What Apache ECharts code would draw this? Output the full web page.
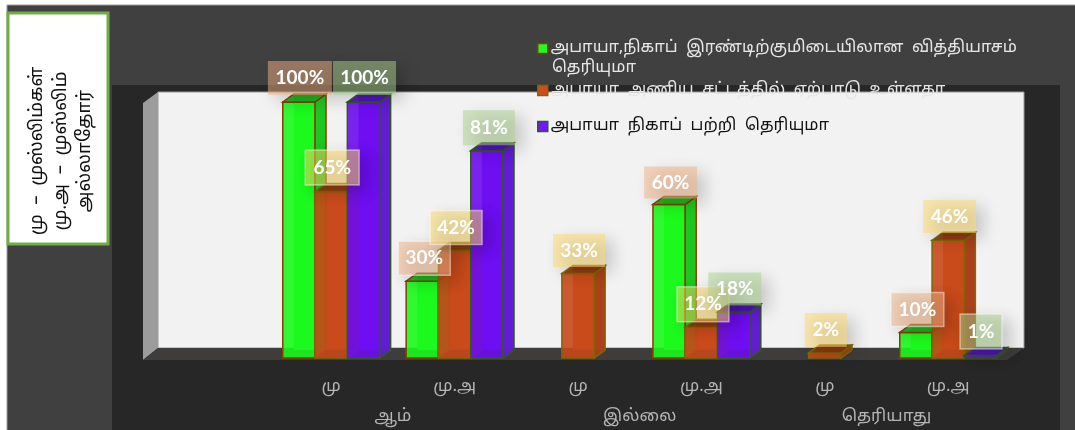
<!DOCTYPE html>
<html>
<head>
<meta charset="utf-8">
<style>
  html, body { margin: 0; padding: 0; background: #fff; }
  #main { width: 1075px; height: 430px; }
</style>
<script src="https://cdn.jsdelivr.net/npm/echarts@6/dist/echarts.min.js"></script>
</head>
<body>
<div id="main"></div>
<script>
const categories = ['மு', 'மு.அ', 'மு', 'மு.அ', 'மு', 'மு.அ'];
const groups = ['ஆம்', 'இல்லை', 'தெரியாது'];
const seriesNames = [
  'அபாயா,நிகாப் இரண்டிற்குமிடையிலான வித்தியாசம் தெரியுமா',
  'அபாயா அணிய சட்டத்தில் ஏற்பாடு உள்ளதா',
  'அபாயா நிகாப் பற்றி தெரியுமா'
];
const knowDifference = [100, 30, null, 60, null, 10];
const dressRule = [65, 42, 33, 12, 2, 46];
const knowAbaya = [100, 81, null, 18, null, 1];
const noteLines = ['மு  –  முஸ்லிம்கள்', 'மு.அ  –  முஸ்லிம்', 'அல்லாதோர்'];

const FONT = '"Noto Sans Tamil", "Noto Sans", "DejaVu Sans", sans-serif';
const DX = 11, DY = 8;   // depth of the fake 3d
const BAR_W = 32.3;

// look of each series
const looks = [
  { back: '#1fff1f', front: '#1bf81c', side: '#1cc41f', top: '#1cb01c', edge: '#8a3c06', tag: '#f4b183' },
  { back: '#d04c1e', front: '#c8481a', side: '#a8401a', top: '#8c3a12', edge: '#7d6a00', tag: '#ffd966' },
  { back: '#7416ff', front: '#6d0cf0', side: '#5f1ccf', top: '#4f14b4', edge: '#35591f', tag: '#a9d18e' }
];

// label box centre relative to the top of its bar, box size, and the white frame some of them have
const tagNudge = [
  [[1, -24, 64, 34, 0], [2, -23, 52, 34, 1], null, [1.5, -22, 53, 32, 0], null, [1.5, -23, 53, 34, 1]],
  [[1, -24, 54, 35, 1], [1.5, -23, 52, 34, 1], [1, -23, 52, 33, 0], [1.6, -23, 52, 35, 1], [1, -23, 42, 34, 0], [1.3, -23.7, 53, 33, 0]],
  [[1, -24, 63, 34, 0], [2, -23, 52, 35, 0], null, [1, -23, 53, 33, 0], null, [0.5, -24, 42, 35, 1]]
];

function barItem(seriesIndex) {
  const look = looks[seriesIndex];
  return function (params, api) {
    const i = api.value(0);
    const v = api.value(1);
    const base = api.coord([i, 0]);
    const top = api.coord([i, v]);
    const x = base[0] + (seriesIndex - 1.5) * BAR_W;
    const y = top[1];
    const w = BAR_W;
    const h = base[1] - y;
    const edge = { stroke: look.edge, lineWidth: 1.5 };
    const nudge = tagNudge[seriesIndex][i];
    const cx = x + w / 2 + nudge[0];
    const cy = y + nudge[1];
    return {
      type: 'group',
      children: [
        { type: 'rect', shape: { x: x + DX, y: y - DY, width: w, height: h },
          style: { fill: look.back, opacity: 0.92 } },
        { type: 'rect', shape: { x: x, y: y, width: w, height: h },
          style: { fill: look.front, opacity: 0.9 } },
        { type: 'rect', shape: { x: x, y: y, width: w, height: h },
          style: Object.assign({ fill: 'none' }, edge) },
        { type: 'polygon', shape: { points: [[x + w, y], [x + w + DX, y - DY], [x + w + DX, base[1] - DY], [x + w, base[1]]] },
          style: Object.assign({ fill: look.side, opacity: 0.95 }, edge) },
        { type: 'polygon', shape: { points: [[x, y], [x + DX, y - DY], [x + w + DX, y - DY], [x + w, y]] },
          style: Object.assign({ fill: look.top, opacity: 0.95 }, edge) },
        { type: 'rect', z2: 50,
          shape: { x: cx - nudge[2] / 2, y: cy - nudge[3] / 2, width: nudge[2], height: nudge[3] },
          style: {
            fill: look.tag, opacity: 0.5,
            stroke: nudge[4] ? 'rgba(255,255,255,0.9)' : null, lineWidth: 1.5,
            shadowBlur: 16, shadowOffsetX: 8, shadowOffsetY: 6, shadowColor: 'rgba(0,0,0,0.35)'
          } },
        { type: 'text', z2: 51, x: cx, y: cy,
          style: { text: v + '%', fill: '#fff', font: 'bold 19px Lato, "Open Sans", sans-serif',
            align: 'center', verticalAlign: 'middle' } }
      ]
    };
  };
}

const allValues = [knowDifference, dressRule, knowAbaya];

const option = {
  animation: false,
  textStyle: { fontFamily: FONT },
  grid: { left: 269.5, top: 102, width: 740.4, height: 256 },
  xAxis: [
    {
      type: 'category', data: categories,
      axisLine: { show: false }, axisTick: { show: false },
      axisLabel: { color: '#b4b4b4', fontSize: 17, margin: 21, fontFamily: FONT }
    },
    {
      type: 'category', data: groups, position: 'bottom', offset: 30,
      axisLine: { show: false }, axisTick: { show: false },
      axisLabel: { color: '#b4b4b4', fontSize: 17, margin: 21, fontFamily: FONT }
    }
  ],
  yAxis: { type: 'value', min: 0, max: 100, show: false },
  legend: [0, 1, 2].map(function (k) {
    return {
      show: true, orient: 'vertical', left: 537, top: [40, 82, 118][k],
      itemWidth: 10, itemHeight: 10, itemGap: 0, padding: 0,
      icon: 'rect', selectedMode: false,
      formatter: function (name) {
        return k === 0 ? 'அபாயா,நிகாப்  இரண்டிற்குமிடையிலான  வித்தியாசம்' : name.replace(/ /g, '  ');
      },
      textStyle: { color: k === 2 ? '#111' : '#e6e6e6', fontSize: 16.5, fontFamily: FONT, padding: [0, 0, 0, -2] },
      data: [{
        name: seriesNames[k],
        itemStyle: { color: looks[k].back, borderColor: looks[k].edge, borderWidth: 1.5 }
      }]
    };
  }),
  graphic: [
    // page frame
    { type: 'rect', shape: { x: 7, y: 5, width: 1068, height: 425 }, style: { fill: '#404040' }, z: 0 },
    { type: 'line', shape: { x1: 7, y1: 5, x2: 1075, y2: 5 }, style: { stroke: '#9a9a9a', lineWidth: 1 }, z: 0 },
    { type: 'line', shape: { x1: 7, y1: 5, x2: 7, y2: 430 }, style: { stroke: '#9a9a9a', lineWidth: 1 }, z: 0 },
    { type: 'rect', shape: { x: 112, y: 85, width: 948, height: 345 }, style: { fill: '#272727' }, z: 0 },
    // 3d walls and floor
    { type: 'rect', shape: { x: 158, y: 92, width: 866, height: 256 }, style: { fill: '#f2f2f2', stroke: '#9a9a9a', lineWidth: 1 }, z: 0 },
    { type: 'polygon', shape: { points: [[143, 103], [158, 92], [158, 348], [143, 360]] }, style: { fill: '#9c9c9c' }, z: 0 },
    { type: 'polygon', shape: { points: [[158, 348], [1024, 348], [1007, 360], [143, 360]] }, style: { fill: '#3f3d3b' }, z: 0 },
    // note box on the left
    { type: 'rect', shape: { x: 8, y: 13, width: 100, height: 231 }, style: { fill: '#fff', stroke: '#70ad47', lineWidth: 3 }, z: 0 },
    { type: 'text', x: 62, y: 151, rotation: Math.PI / 2, z: 1,
      style: { text: noteLines.join('\n'), fill: '#111', fontFamily: FONT, fontSize: 18.5, lineHeight: 24,
        align: 'center', verticalAlign: 'middle' } },
    // second line of the first legend entry
    { type: 'text', x: 552, y: 69, z: 5,
      style: { text: 'தெரியுமா', fill: '#e6e6e6', fontFamily: FONT, fontSize: 16.5, verticalAlign: 'middle' } }
  ],
  series: allValues.map(function (values, k) {
    return {
      name: seriesNames[k],
      type: 'custom',
      coordinateSystem: 'cartesian2d',
      renderItem: barItem(k),
      itemStyle: { color: looks[k].back },
      encode: { x: 0, y: 1 },
      data: values.map(function (v, i) { return v === null ? null : [i, v]; }).filter(Boolean)
    };
  })
};

const myChart = echarts.init(document.getElementById('main'));
myChart.setOption(option);
</script>
</body>
</html>
